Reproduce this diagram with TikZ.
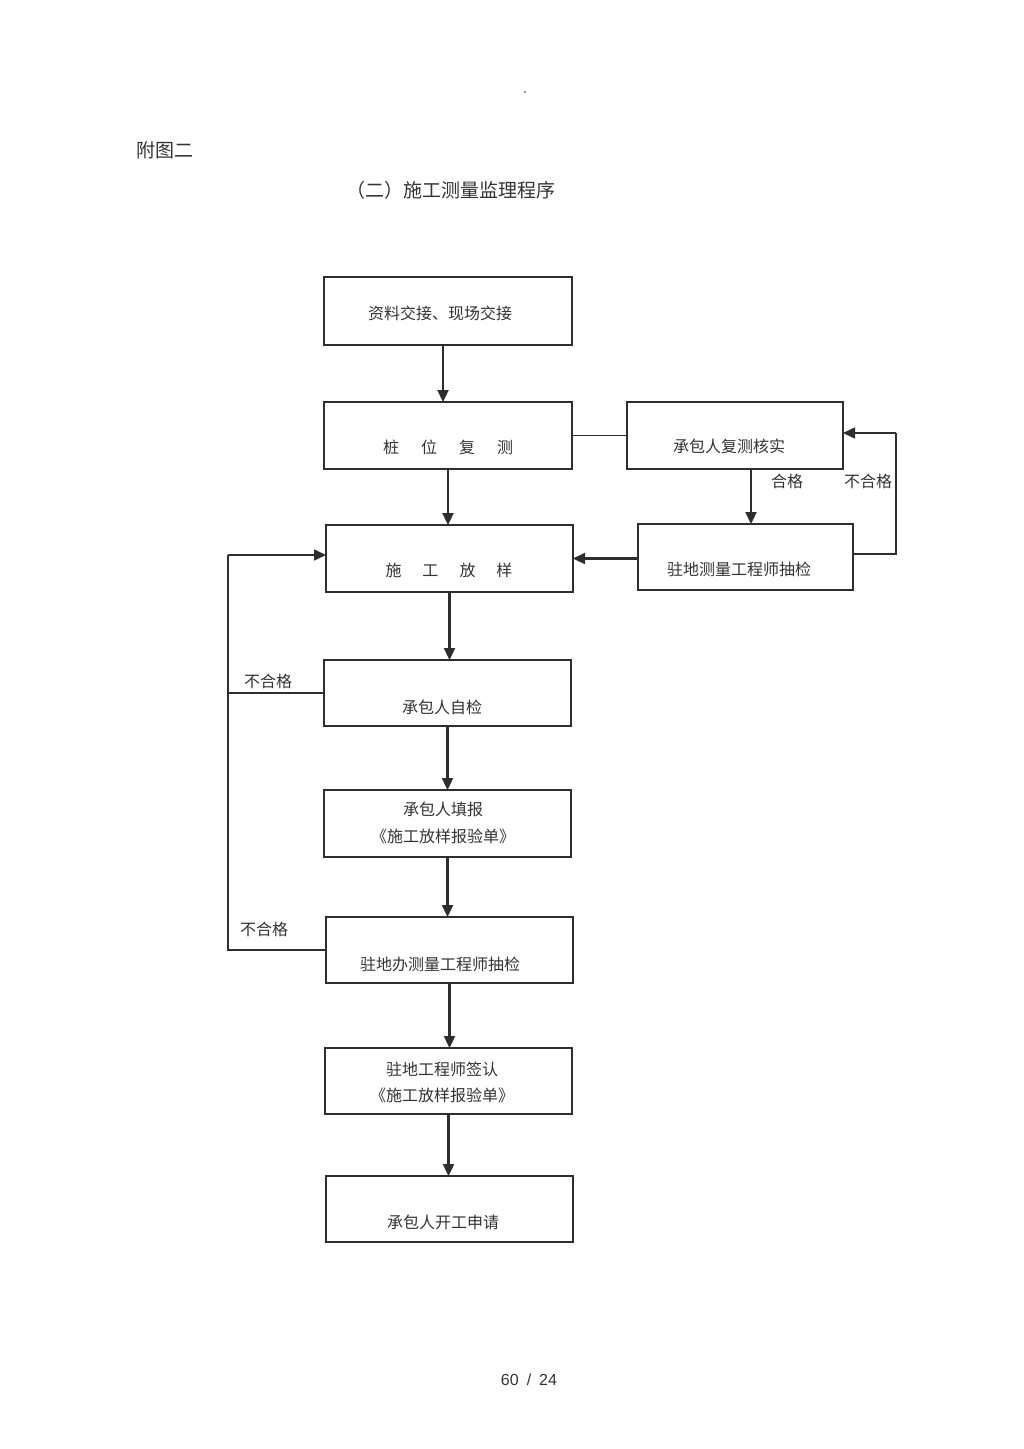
\documentclass[tikz,border=0pt]{standalone}
\usepackage{fontspec}
\newfontfamily\cjk{Noto Sans CJK SC}
\newfontfamily\latinsans{Liberation Sans}
\usetikzlibrary{arrows.meta}
\definecolor{ink}{HTML}{2E2E2E}
\definecolor{txt}{HTML}{333333}
\begin{document}
\begin{tikzpicture}[x=1pt,y=-1pt,
  box/.style={draw=ink,line width=1.4pt,rectangle,inner sep=0pt,outer sep=0pt},
  lbl/.style={text=txt,font=\cjk\fontsize{16}{18}\selectfont,inner sep=0pt,align=center},
  flow/.style={draw=ink,line width=2.3pt,-{Triangle[length=12pt,width=11pt]}},
  link/.style={draw=ink,line width=1.4pt}]
\useasboundingbox (0,0) rectangle (1024,1449);
\fill[white] (0,0) rectangle (1024,1449);
% header
\fill[txt] (525,92) circle (0.8);
\node[lbl,font=\cjk\fontsize{19}{21}\selectfont] (hdr) at (165,150) {附图二};
\node[lbl,font=\cjk\fontsize{19}{21}\selectfont] (ttl) at (451,190) {（二）施工测量监理程序};
% boxes
\node[box,minimum width=248,minimum height=68] (b1) at (448,311) {};
\node[box,minimum width=248,minimum height=67] (b2) at (448,435.5) {};
\node[box,minimum width=216,minimum height=67] (b3) at (735,435.5) {};
\node[box,minimum width=247,minimum height=67] (b4) at (449.5,558.5) {};
\node[box,minimum width=215,minimum height=66] (b5) at (745.5,557) {};
\node[box,minimum width=247,minimum height=66] (b6) at (447.5,693) {};
\node[box,minimum width=247,minimum height=67] (b7) at (447.5,823.5) {};
\node[box,minimum width=247,minimum height=66] (b8) at (449.5,950) {};
\node[box,minimum width=247,minimum height=66] (b9) at (448.5,1081) {};
\node[box,minimum width=247,minimum height=66] (b10) at (449.5,1209) {};
% thicker edges
\draw[ink,line width=2.8pt] (b1.north west) -- (b1.south west);
\draw[ink,line width=2.8pt] (b1.north east) -- (b1.south east);
\draw[ink,line width=2.4pt] (b4.south west) -- (b4.south east);
\draw[ink,line width=2.4pt] (b8.north west) -- (b8.north east);
% texts
\node[lbl] (t1) at (440,313) {资料交接、现场交接};
\node[lbl] (t2) at (448,447) {桩\hspace{22pt}位\hspace{22pt}复\hspace{22pt}测};
\node[lbl] (t3) at (729,446) {承包人复测核实};
\node[lbl] (t4) at (449,570) {施\hspace{21pt}工\hspace{21pt}放\hspace{21pt}样};
\node[lbl] (t5) at (739,569) {驻地测量工程师抽检};
\node[lbl] (t6) at (442,707) {承包人自检};
\node[lbl] (t7) at (443,822.5) {承包人填报\\[9pt]《施工放样报验单》};
\node[lbl] (t8) at (440,964) {驻地办测量工程师抽检};
\node[lbl] (t9) at (442,1082.5) {驻地工程师签认\\[8pt]《施工放样报验单》};
\node[lbl] (t10) at (443,1222) {承包人开工申请};
% edge labels
\node[lbl] (q1) at (787,481) {合格};
\node[lbl] (q2) at (868,481) {不合格};
\node[lbl] (q3) at (268,681) {不合格};
\node[lbl] (q4) at (264,929) {不合格};
% connectors
\draw[flow] ([xshift=-5pt]b1.south) -- ([xshift=-5pt]b1.south |- b2.north);
\draw[flow] (b2.south) -- (b2.south |- b4.north);
\draw[flow] (b4.south) -- (b4.south |- b6.north);
\draw[flow] (b6.south) -- (b6.south |- b7.north);
\draw[flow] (b7.south) -- (b7.south |- b8.north);
\draw[flow] (b8.south) -- (b8.south |- b9.north);
\draw[flow] (b9.south) -- (b9.south |- b10.north);
\draw[flow] ([xshift=16pt]b3.south) -- ([xshift=16pt]b3.south |- b5.north);
\draw[flow] (b5.west |- b4.east) -- (b4.east);
\draw[link] (b2.east) -- (b3.west);
\coordinate (r1) at (896,554);
\coordinate (r2) at (896,433);
\draw[link] ([yshift=3pt]b5.east) -- (r1) -- (r2);
\draw[flow,line width=1.6pt] (r2) -- (r2 -| b3.east);
\coordinate (l1) at (228,950);
\coordinate (l2) at (228,555);
\draw[link] (b8.west) -- (l1) -- (l2);
\draw[flow,line width=1.6pt] (l2) -- (l2 -| b4.west);
\draw[link] (b6.west) -- (b6.west -| l1);
% page number
\node[text=txt,font=\latinsans\fontsize{16}{18}\selectfont,inner sep=0pt] (pg) at (529,1380) {60\hspace{8pt}/\hspace{8pt}24};
\end{tikzpicture}
\end{document}
